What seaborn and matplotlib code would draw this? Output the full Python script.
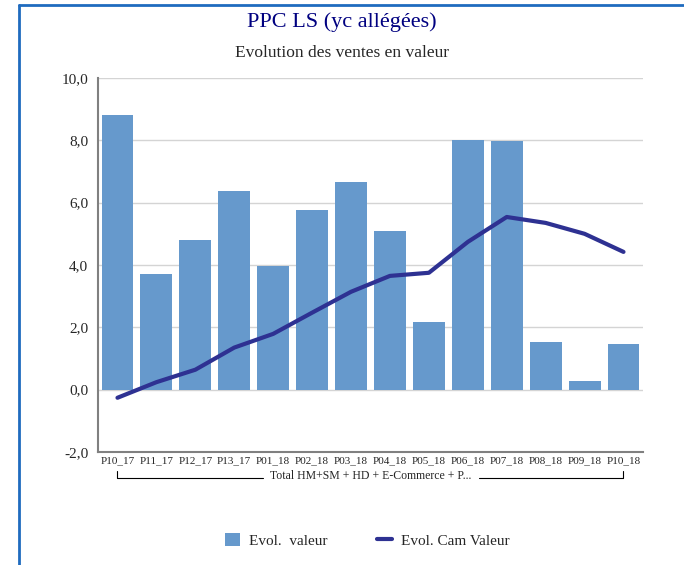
import matplotlib
matplotlib.use("Agg")
import matplotlib.pyplot as plt
import seaborn as sns
import pandas as pd
from matplotlib.lines import Line2D
from matplotlib.patches import Patch

# -----------------------------
# Data
# -----------------------------
periods = ["P10_17", "P11_17", "P12_17", "P13_17", "P01_18", "P02_18", "P03_18",
           "P04_18", "P05_18", "P06_18", "P07_18", "P08_18", "P09_18", "P10_18"]
evol_valeur = [8.8, 3.72, 4.81, 6.38, 3.97, 5.77, 6.67, 5.10, 2.18, 8.01, 7.98, 1.54, 0.29, 1.47]
evol_cam_valeur = [-0.26, 0.24, 0.64, 1.35, 1.79, 2.47, 3.14, 3.65, 3.75, 4.74, 5.54, 5.35, 5.0, 4.42]
yticks = [-2, 0, 2, 4, 6, 8, 10]
group_label = "Total HM+SM + HD + E-Commerce + P..."

df = pd.DataFrame({"periode": periods, "valeur": evol_valeur, "cam": evol_cam_valeur})

BAR_COLOR = "#6699cc"
LINE_COLOR = "#2e3192"

sns.set_style("white")
plt.rcParams["font.family"] = ["Liberation Serif", "DejaVu Serif"]

fig = plt.figure(figsize=(6.84, 5.65), dpi=100)
ax = fig.add_axes([0.1433, 0.2, 0.7967, 0.662])

sns.barplot(data=df, x="periode", y="valeur", color=BAR_COLOR, width=0.82,
            saturation=1, linewidth=0, ax=ax, zorder=2)
sns.lineplot(data=df, x="periode", y="cam", color=LINE_COLOR, linewidth=3,
             sort=False, ax=ax, zorder=3)

ax.set_xlim(-0.5, len(periods) - 0.5)
ax.set_ylim(-2, 10)
ax.set_yticks(yticks)
ax.set_yticklabels([f"{v:.1f}".replace(".", ",") for v in yticks], fontsize=11)
ax.set_xlabel("")
ax.set_ylabel("")
ax.tick_params(axis="x", labelsize=8, length=0, pad=3)
ax.tick_params(axis="y", length=3, color="#888888", pad=4)
ax.grid(axis="y", color="#d4d4d4", linewidth=1, zorder=0)
ax.set_axisbelow(True)
for s in ["top", "right"]:
    ax.spines[s].set_visible(False)
for s in ["left", "bottom"]:
    ax.spines[s].set_color("#808080")
    ax.spines[s].set_linewidth(1.5)

# group bracket under the tick labels
trans = ax.get_xaxis_transform()
yb = -0.0705
ax.plot([0, 0, 3.75], [yb + 0.019, yb, yb], transform=trans, color="black", lw=0.8, clip_on=False)
ax.plot([9.3, 13, 13], [yb, yb, yb + 0.019], transform=trans, color="black", lw=0.8, clip_on=False)
ax.text(6.5, yb + 0.007, group_label, transform=trans, ha="center", va="center", fontsize=8.5)

# titles
fig.text(0.5, 0.960, "PPC LS (yc allégées)", ha="center", va="center", fontsize=16, color="#000080")
fig.text(0.5, 0.906, "Evolution des ventes en valeur", ha="center", va="center", fontsize=12.5)

# legend
handles = [Patch(facecolor=BAR_COLOR, edgecolor="none"),
           Line2D([0], [0], color=LINE_COLOR, lw=3)]
fig.legend(handles, ["Evol.  valeur", "Evol. Cam Valeur"], loc="center",
           bbox_to_anchor=(0.537, 0.044), ncol=2, frameon=False, fontsize=11,
           handlelength=1.0, handleheight=1.0, handletextpad=0.6, columnspacing=3.2)

# blue frame (top and left)
fig.add_artist(Line2D([0.028, 1], [0.991, 0.991], color="#1f6bbf", lw=2, transform=fig.transFigure))
fig.add_artist(Line2D([0.028, 0.028], [0, 0.991], color="#1f6bbf", lw=2, transform=fig.transFigure))

fig.savefig("out.png", dpi=100)
